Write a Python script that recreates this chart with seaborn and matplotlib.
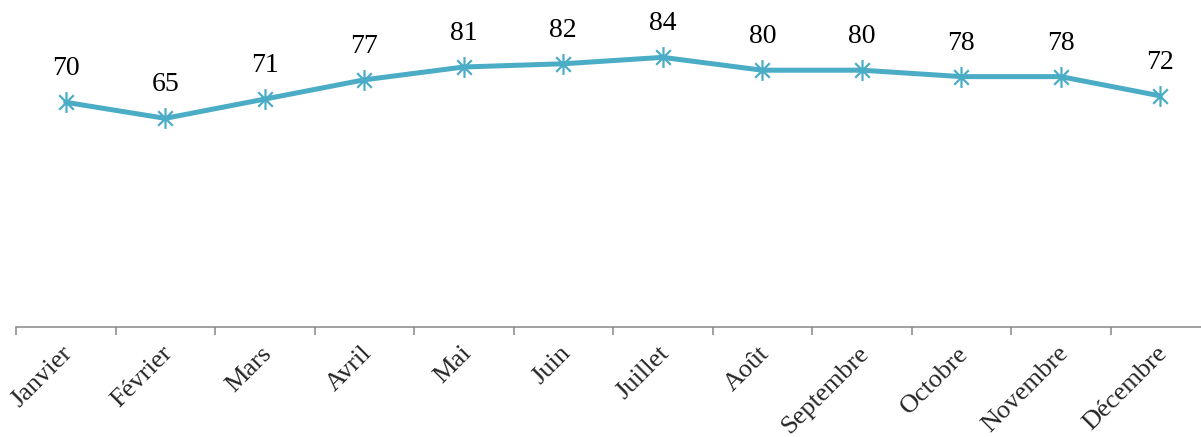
import matplotlib
matplotlib.use("Agg")
import matplotlib.pyplot as plt
from matplotlib.path import Path
from matplotlib.ticker import FixedLocator
from matplotlib.transforms import ScaledTranslation
import numpy as np
import pandas as pd
import seaborn as sns

# %%
months = ["Janvier", "Février", "Mars", "Avril", "Mai", "Juin",
          "Juillet", "Août", "Septembre", "Octobre", "Novembre", "Décembre"]
values = [70, 65, 71, 77, 81, 82, 84, 80, 80, 78, 78, 72]

col_month = "Mois"
col_val = "Valeur"
df = pd.DataFrame({col_month: months, col_val: values})

# %%
sns.set_style("white")
plt.rcParams["font.family"] = ["Liberation Serif", "DejaVu Serif"]

line_color = "#4BACC6"
axis_color = "#868686"

# excel style star: x plus a vertical bar
star = Path(
    [(-0.7, -0.7), (0.7, 0.7), (-0.7, 0.7), (0.7, -0.7), (0, -1), (0, 1)],
    [Path.MOVETO, Path.LINETO, Path.MOVETO, Path.LINETO, Path.MOVETO, Path.LINETO],
)

fig = plt.figure(figsize=(12.01, 4.37), dpi=100)
left_px, right_px = 16, 1210
bottom_px = 327
ax = fig.add_axes([left_px / 1201, (437 - bottom_px) / 437,
                   (right_px - left_px) / 1201, 321 / 437])

sns.lineplot(
    data=df,
    x=col_month,
    y=col_val,
    color=line_color,
    linewidth=3.6,
    marker=star,
    markersize=15,
    markeredgewidth=1.6,
    markeredgecolor=line_color,
    markerfacecolor="none",
    ax=ax,
)

for i, v in enumerate(values):
    ax.annotate(str(v), (i, v), xytext=(0, 19.5), textcoords="offset points",
                ha="center", va="baseline", fontsize=20, color="black")

ax.set_xlim(-0.5, len(months) - 0.5)
ax.set_ylim(0, 100)
ax.set_xlabel("")
ax.set_ylabel("")
ax.set_yticks([])

ax.set_xticks(range(len(months)))
ax.set_xticklabels(months, rotation=45, ha="right", rotation_mode="anchor", fontsize=19)
ax.tick_params(axis="x", which="major", length=0, pad=11)
shift = ScaledTranslation(-4 / 100, 0, fig.dpi_scale_trans)
for lbl in ax.get_xticklabels():
    lbl.set_transform(lbl.get_transform() + shift)
ax.xaxis.set_minor_locator(FixedLocator(np.arange(-0.5, len(months), 1.0)))
ax.tick_params(axis="x", which="minor", length=6, width=1.1, color=axis_color, bottom=True)

for side in ["top", "left", "right"]:
    ax.spines[side].set_visible(False)
ax.spines["bottom"].set_color(axis_color)
ax.spines["bottom"].set_linewidth(1.1)

fig.savefig("out.png", dpi=100)
